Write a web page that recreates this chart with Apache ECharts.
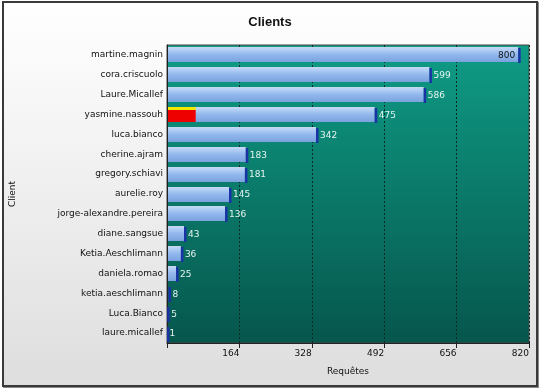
<!DOCTYPE html>
<html><head><meta charset="utf-8">
<script src="https://cdn.jsdelivr.net/npm/echarts@6/dist/echarts.min.js"></script>
<style>
html,body{margin:0;padding:0;width:540px;height:388px;overflow:hidden;background:#fff;}
#frame{position:absolute;left:2px;top:1px;width:532px;height:382px;border:2px solid #3a3a3a;background:linear-gradient(#ffffff,#dedede);box-shadow:1px 1px 0 #888;}
#chart{position:absolute;left:0;top:0;width:540px;height:388px;}
</style></head>
<body><div id="frame"></div><div id="chart"></div>
<script>
const categories = ['martine.magnin','cora.criscuolo','Laure.Micallef','yasmine.nassouh','luca.bianco','cherine.ajram','gregory.schiavi','aurelie.roy','jorge-alexandre.pereira','diane.sangsue','Ketia.Aeschlimann','daniela.romao','ketia.aeschlimann','Luca.Bianco','laure.micallef'];
const requetes = [800,599,586,475,342,183,181,145,136,43,36,25,8,5,1];
const highlight = [0,0,0,65,0,0,0,0,0,0,0,0,0,0,0];
const xTicks = [0,164,328,492,656,820];

const chart = echarts.init(document.getElementById('chart'), null, {renderer:'canvas'});
const font = 'DejaVu Sans';
const barGrad = new echarts.graphic.LinearGradient(0,0,0,1,[
  {offset:0,color:'#c9d8ec'},{offset:0.12,color:'#b9d3f6'},{offset:0.5,color:'#93b8ee'},{offset:1,color:'#7ba2de'}]);

function renderItem(params, api){
  const v = api.value(0), cat = api.value(1), hl = api.value(2);
  const start = api.coord([0, cat]);
  const end = api.coord([v, cat]);
  const band = api.size([0,1])[1];
  const h = Math.round(band*0.76);
  const y = Math.round(start[1]-h/2);
  const x0 = start[0]+1;
  const w = end[0]-x0;
  const cs = params.coordSys;
  const children = [];
  if (w > 3) {
    children.push({type:'rect',shape:{x:x0,y:y,width:w-2,height:h},style:{fill:barGrad}});
  }
  if (hl > 0) {
    const hx = api.coord([hl, cat])[0];
    children.push({type:'rect',shape:{x:x0,y:y+3,width:hx-x0,height:h-3},style:{fill:'#ee0000'}});
    children.push({type:'rect',shape:{x:x0,y:y,width:hx-x0,height:3},style:{fill:'#f4e800'}});
  }
  children.push({type:'rect',shape:{x:Math.max(end[0]-2,x0-1),y:y+1,width:2.5,height:h},style:{fill:'#1a33a6'}});
  const label = String(v);
  const inside = end[0] + 22 > cs.x + cs.width;
  children.push({type:'text',style:{
    text:label, x: inside ? end[0]-5 : end[0]+2, y: start[1]+1,
    align: inside ? 'right':'left', verticalAlign:'middle',
    font:'9px "'+font+'"', fill: inside ? '#111' : '#e6f4f0'}});
  return {type:'group',children:children};
}

chart.setOption({
  animation:false,
  backgroundColor:'transparent',
  title:{text:'Clients',left:'center',top:11,textStyle:{fontFamily:'Liberation Sans',fontSize:13,fontWeight:'bold',color:'#111'}},
  grid:{left:164,right:11,top:45,bottom:45,show:true,borderColor:'#444',borderWidth:1,
    backgroundColor:new echarts.graphic.LinearGradient(0,0,0,1,[{offset:0,color:'#0f9c86'},{offset:1,color:'#06564c'}])},
  xAxis:{type:'value',min:xTicks[0],max:xTicks[xTicks.length-1],interval:xTicks[1]-xTicks[0],
    name:'Requêtes',nameLocation:'middle',nameGap:24,
    nameTextStyle:{fontFamily:font,fontSize:9,color:'#111'},
    axisLine:{show:true,lineStyle:{color:'#222'}},
    axisTick:{show:true,length:5,lineStyle:{color:'#222'}},
    axisLabel:{fontFamily:font,fontSize:9,color:'#111',margin:6,align:'right',formatter:v=>v===0?'':v},
    splitLine:{show:true,lineStyle:{type:[2,2],color:'#0a2a26',width:1}}},
  yAxis:{type:'category',data:categories,inverse:true,
    name:'Client',nameLocation:'middle',nameGap:150,nameRotate:90,
    nameTextStyle:{fontFamily:font,fontSize:9,color:'#111'},
    axisLine:{show:true,lineStyle:{color:'#222'}},
    axisTick:{show:false},
    axisLabel:{fontFamily:font,fontSize:9,color:'#111',margin:4},
    splitLine:{show:false}},
  series:[{type:'custom',renderItem:renderItem,encode:{x:0,y:1},
    data:requetes.map((v,i)=>[v,i,highlight[i]])}]
});
</script></body></html>
